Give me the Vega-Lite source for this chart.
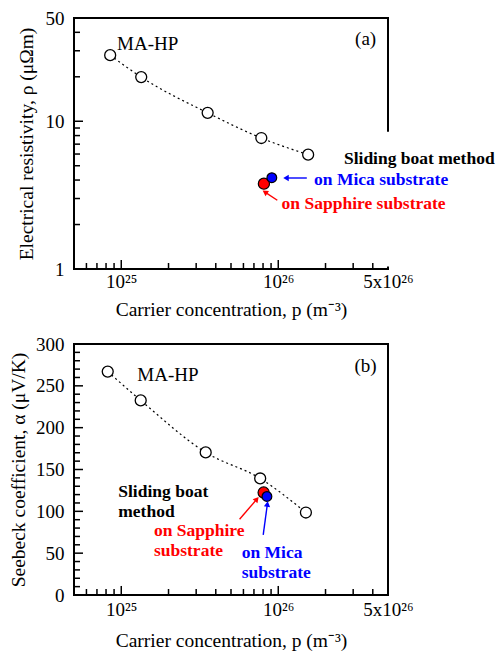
{
  "$schema": "https://vega.github.io/schema/vega-lite/v6.json",
  "background": "white",
  "padding": {"left": 7, "top": 8, "right": 0, "bottom": 0},
  "spacing": 14,
  "config": {
    "font": "Liberation Serif",
    "view": {"stroke": "black", "strokeWidth": 2},
    "axis": {"domain": false, "grid": false, "ticks": false, "labelFont": "Liberation Serif", "labelFontSize": 19, "labelColor": "black", "titleFont": "Liberation Serif", "titleFontSize": 19.5, "titleFontWeight": "normal", "titleColor": "black", "labelOverlap": false, "labelFlush": false, "labelBound": false}
  },
  "datasets": {
    "xticks": [
      {"v": 6e24, "major": false}, {"v": 7e24, "major": false}, {"v": 8e24, "major": false}, {"v": 9e24, "major": false},
      {"v": 1e25, "major": true},
      {"v": 2e25, "major": false}, {"v": 3e25, "major": false}, {"v": 4e25, "major": false}, {"v": 5e25, "major": false}, {"v": 6e25, "major": false}, {"v": 7e25, "major": false}, {"v": 8e25, "major": false}, {"v": 9e25, "major": false},
      {"v": 1e26, "major": true},
      {"v": 2e26, "major": false}, {"v": 3e26, "major": false}, {"v": 4e26, "major": false}
    ],
    "a_yticks": [
      {"v": 2, "major": false}, {"v": 3, "major": false}, {"v": 4, "major": false}, {"v": 5, "major": false}, {"v": 6, "major": false}, {"v": 7, "major": false}, {"v": 8, "major": false}, {"v": 9, "major": false},
      {"v": 10, "major": true},
      {"v": 20, "major": false}, {"v": 30, "major": false}, {"v": 40, "major": false}
    ],
    "b_yticks": [
      {"v": 10, "major": false}, {"v": 20, "major": false}, {"v": 30, "major": false}, {"v": 40, "major": false}, {"v": 50, "major": true},
      {"v": 60, "major": false}, {"v": 70, "major": false}, {"v": 80, "major": false}, {"v": 90, "major": false}, {"v": 100, "major": true},
      {"v": 110, "major": false}, {"v": 120, "major": false}, {"v": 130, "major": false}, {"v": 140, "major": false}, {"v": 150, "major": true},
      {"v": 160, "major": false}, {"v": 170, "major": false}, {"v": 180, "major": false}, {"v": 190, "major": false}, {"v": 200, "major": true},
      {"v": 210, "major": false}, {"v": 220, "major": false}, {"v": 230, "major": false}, {"v": 240, "major": false}, {"v": 250, "major": true},
      {"v": 260, "major": false}, {"v": 270, "major": false}, {"v": 280, "major": false}, {"v": 290, "major": false}
    ],
    "a_mahp": [{"x": 8.5e24, "y": 28.0}, {"x": 1.34e25, "y": 19.9}, {"x": 3.55e25, "y": 11.4}, {"x": 7.8e25, "y": 7.7}, {"x": 1.55e26, "y": 5.94}],
    "a_sb": [{"x": 8.1e25, "y": 3.78, "sub": "Sapphire"}, {"x": 9.1e25, "y": 4.15, "sub": "Mica"}],
    "a_arrows": [{"x": 1.52e26, "y": 4.13, "x2": 1.135e26, "y2": 4.13, "sub": "Mica"}, {"x": 9.86e25, "y": 2.92, "x2": 8.32e25, "y2": 3.29, "sub": "Sapphire"}],
    "a_cover": [{"x": 4.6e26, "x2": 7e26, "y": 1.04, "y2": 8.5}],
    "a_text": [
      {"x": 9.4e24, "y": 33.5, "label": "MA-HP", "kind": "plain"},
      {"x": 3.6e26, "y": 36, "label": "(a)", "kind": "panel"},
      {"x": 2.62e26, "y": 5.56, "label": "Sliding boat method", "kind": "black"},
      {"x": 1.69e26, "y": 3.98, "label": "on Mica substrate", "kind": "Mica"},
      {"x": 1.05e26, "y": 2.74, "label": "on Sapphire substrate", "kind": "Sapphire"}
    ],
    "b_mahp": [{"x": 8.2e24, "y": 267}, {"x": 1.33e25, "y": 232.6}, {"x": 3.45e25, "y": 170.4}, {"x": 7.67e25, "y": 139.3}, {"x": 1.5e26, "y": 98.6}],
    "b_sb": [{"x": 8.07e25, "y": 122.5, "sub": "Sapphire"}, {"x": 8.47e25, "y": 117.8, "sub": "Mica"}],
    "b_arrows": [{"x": 5.67e25, "y": 90.6, "x2": 7.24e25, "y2": 113.7, "sub": "Sapphire"}, {"x": 8.02e25, "y": 71.8, "x2": 8.51e25, "y2": 107.7, "sub": "Mica"}],
    "b_text": [
      {"x": 1.265e25, "y": 263.3, "label": "MA-HP", "kind": "plain"},
      {"x": 3.6e26, "y": 273.3, "label": "(b)", "kind": "panel"},
      {"x": 9.57e24, "y": 123.7, "label": "Sliding boat", "kind": "black"},
      {"x": 9.57e24, "y": 99.8, "label": "method", "kind": "black"},
      {"x": 1.615e25, "y": 77, "label": "on Sapphire", "kind": "Sapphire"},
      {"x": 1.615e25, "y": 53.1, "label": "substrate", "kind": "Sapphire"},
      {"x": 5.85e25, "y": 50.7, "label": "on Mica", "kind": "Mica"},
      {"x": 5.85e25, "y": 26.8, "label": "substrate", "kind": "Mica"}
    ]
  },
  "vconcat": [
    {
      "width": 314,
      "height": 251,
      "layer": [
        {
          "data": {"name": "a_mahp"},
          "mark": {"type": "line", "interpolate": "monotone", "strokeDash": [2, 3], "color": "black", "strokeWidth": 1.2},
          "encoding": {
            "x": {"field": "x", "type": "quantitative", "scale": {"type": "log", "domain": [5e24, 5e26], "nice": false},
              "axis": {"orient": "bottom", "title": "Carrier concentration, p (m⁻³)", "values": [1e25, 1e26, 5e26],
                "labelExpr": "datum.value == 1e25 ? '10²⁵' : datum.value == 1e26 ? '10²⁶' : '5x10²⁶'",
                "labelPadding": 3, "titlePadding": 9}},
            "y": {"field": "y", "type": "quantitative", "scale": {"type": "log", "domain": [1, 50], "nice": false},
              "axis": {"orient": "left", "title": "Electrical resistivity, ρ (μΩm)", "values": [1, 10, 50],
                "labelPadding": 10, "titlePadding": 9}}
          }
        },
        {
          "data": {"name": "xticks"},
          "transform": [{"filter": "datum.major"}],
          "mark": {"type": "rule", "color": "black", "strokeWidth": 1.5},
          "encoding": {"x": {"field": "v", "type": "quantitative", "axis": null}, "y": {"datum": 1, "type": "quantitative", "axis": null}, "y2": {"datum": 1.151}}
        },
        {
          "data": {"name": "xticks"},
          "transform": [{"filter": "!datum.major"}],
          "mark": {"type": "rule", "color": "black", "strokeWidth": 1.5},
          "encoding": {"x": {"field": "v", "type": "quantitative", "axis": null}, "y": {"datum": 1, "type": "quantitative", "axis": null}, "y2": {"datum": 1.098}}
        },
        {
          "data": {"name": "a_yticks"},
          "transform": [{"filter": "datum.major"}],
          "mark": {"type": "rule", "color": "black", "strokeWidth": 1.5},
          "encoding": {"y": {"field": "v", "type": "quantitative", "axis": null}, "x": {"datum": 5e24, "type": "quantitative", "axis": null}, "x2": {"datum": 5.705e24}}
        },
        {
          "data": {"name": "a_yticks"},
          "transform": [{"filter": "!datum.major"}],
          "mark": {"type": "rule", "color": "black", "strokeWidth": 1.5},
          "encoding": {"y": {"field": "v", "type": "quantitative", "axis": null}, "x": {"datum": 5e24, "type": "quantitative", "axis": null}, "x2": {"datum": 5.46e24}}
        },
        {
          "data": {"name": "a_mahp"},
          "mark": {"type": "point", "shape": "circle", "filled": true, "fill": "white", "stroke": "black", "strokeWidth": 1.3, "size": 120, "opacity": 1},
          "encoding": {"x": {"field": "x", "type": "quantitative", "axis": null}, "y": {"field": "y", "type": "quantitative", "axis": null}}
        },
        {
          "data": {"name": "a_sb"},
          "mark": {"type": "point", "shape": "circle", "filled": true, "stroke": "black", "strokeWidth": 1.2, "opacity": 1},
          "encoding": {
            "x": {"field": "x", "type": "quantitative", "axis": null}, "y": {"field": "y", "type": "quantitative", "axis": null},
            "fill": {"field": "sub", "type": "nominal", "scale": {"domain": ["Mica", "Sapphire"], "range": ["#0000ff", "#ff0000"]}, "legend": null},
            "size": {"field": "sub", "type": "nominal", "scale": {"domain": ["Mica", "Sapphire"], "range": [95, 125]}, "legend": null},
            "order": {"field": "sub", "sort": "descending"}
          }
        },
        {
          "data": {"name": "a_cover"},
          "mark": {"type": "rect", "fill": "white", "stroke": null, "clip": false},
          "encoding": {"x": {"field": "x", "type": "quantitative", "axis": null}, "x2": {"field": "x2"}, "y": {"field": "y", "type": "quantitative", "axis": null}, "y2": {"field": "y2"}}
        },
        {
          "data": {"name": "a_arrows"},
          "mark": {"type": "rule", "strokeWidth": 1.4},
          "encoding": {
            "x": {"field": "x", "type": "quantitative", "axis": null}, "y": {"field": "y", "type": "quantitative", "axis": null}, "x2": {"field": "x2"}, "y2": {"field": "y2"},
            "color": {"field": "sub", "type": "nominal", "scale": {"domain": ["Mica", "Sapphire"], "range": ["#0000ff", "#ff0000"]}, "legend": null}
          }
        },
        {
          "data": {"name": "a_arrows"},
          "transform": [{"filter": "datum.sub == 'Mica'"}],
          "mark": {"type": "point", "shape": "triangle", "filled": true, "color": "#0000ff", "size": 40, "angle": 270, "opacity": 1},
          "encoding": {"x": {"field": "x2", "type": "quantitative", "axis": null}, "y": {"field": "y2", "type": "quantitative", "axis": null}}
        },
        {
          "data": {"name": "a_arrows"},
          "transform": [{"filter": "datum.sub == 'Sapphire'"}],
          "mark": {"type": "point", "shape": "triangle", "filled": true, "color": "#ff0000", "size": 40, "angle": 303, "opacity": 1},
          "encoding": {"x": {"field": "x2", "type": "quantitative", "axis": null}, "y": {"field": "y2", "type": "quantitative", "axis": null}}
        },
        {
          "data": {"name": "a_text"},
          "transform": [{"filter": "datum.kind == 'plain'"}],
          "mark": {"type": "text", "align": "left", "baseline": "middle", "fontSize": 19, "color": "black"},
          "encoding": {"x": {"field": "x", "type": "quantitative", "axis": null}, "y": {"field": "y", "type": "quantitative", "axis": null}, "text": {"field": "label"}}
        },
        {
          "data": {"name": "a_text"},
          "transform": [{"filter": "datum.kind == 'panel'"}],
          "mark": {"type": "text", "align": "center", "baseline": "middle", "fontSize": 19, "color": "black"},
          "encoding": {"x": {"field": "x", "type": "quantitative", "axis": null}, "y": {"field": "y", "type": "quantitative", "axis": null}, "text": {"field": "label"}}
        },
        {
          "data": {"name": "a_text"},
          "transform": [{"filter": "datum.kind != 'plain' && datum.kind != 'panel'"}],
          "mark": {"type": "text", "align": "left", "baseline": "middle", "fontSize": 17.5, "fontWeight": "bold"},
          "encoding": {
            "x": {"field": "x", "type": "quantitative", "axis": null}, "y": {"field": "y", "type": "quantitative", "axis": null}, "text": {"field": "label"},
            "color": {"field": "kind", "type": "nominal", "scale": {"domain": ["black", "Mica", "Sapphire"], "range": ["#000000", "#0000ff", "#ff0000"]}, "legend": null}
          }
        }
      ],
      "resolve": {"scale": {"color": "independent"}, "axis": {"x": "independent", "y": "independent"}}
    },
    {
      "width": 314,
      "height": 251,
      "layer": [
        {
          "data": {"name": "b_mahp"},
          "mark": {"type": "line", "interpolate": "monotone", "strokeDash": [2, 3], "color": "black", "strokeWidth": 1.2},
          "encoding": {
            "x": {"field": "x", "type": "quantitative", "scale": {"type": "log", "domain": [5e24, 5e26], "nice": false},
              "axis": {"orient": "bottom", "title": "Carrier concentration, p (m⁻³)", "values": [1e25, 1e26, 5e26],
                "labelExpr": "datum.value == 1e25 ? '10²⁵' : datum.value == 1e26 ? '10²⁶' : '5x10²⁶'",
                "labelPadding": 5, "titlePadding": 12}},
            "y": {"field": "y", "type": "quantitative", "scale": {"domain": [0, 300], "nice": false},
              "axis": {"orient": "left", "title": "Seebeck coefficient, α (μV/K)", "values": [0, 50, 100, 150, 200, 250, 300],
                "labelPadding": 10, "titlePadding": 7}}
          }
        },
        {
          "data": {"name": "xticks"},
          "transform": [{"filter": "datum.major"}],
          "mark": {"type": "rule", "color": "black", "strokeWidth": 1.5},
          "encoding": {"x": {"field": "v", "type": "quantitative", "axis": null}, "y": {"datum": 0, "type": "quantitative", "axis": null}, "y2": {"datum": 10.8}}
        },
        {
          "data": {"name": "xticks"},
          "transform": [{"filter": "!datum.major"}],
          "mark": {"type": "rule", "color": "black", "strokeWidth": 1.5},
          "encoding": {"x": {"field": "v", "type": "quantitative", "axis": null}, "y": {"datum": 0, "type": "quantitative", "axis": null}, "y2": {"datum": 7.2}}
        },
        {
          "data": {"name": "b_yticks"},
          "transform": [{"filter": "datum.major"}],
          "mark": {"type": "rule", "color": "black", "strokeWidth": 1.5},
          "encoding": {"y": {"field": "v", "type": "quantitative", "axis": null}, "x": {"datum": 5e24, "type": "quantitative", "axis": null}, "x2": {"datum": 5.705e24}}
        },
        {
          "data": {"name": "b_yticks"},
          "transform": [{"filter": "!datum.major"}],
          "mark": {"type": "rule", "color": "black", "strokeWidth": 1.5},
          "encoding": {"y": {"field": "v", "type": "quantitative", "axis": null}, "x": {"datum": 5e24, "type": "quantitative", "axis": null}, "x2": {"datum": 5.46e24}}
        },
        {
          "data": {"name": "b_mahp"},
          "mark": {"type": "point", "shape": "circle", "filled": true, "fill": "white", "stroke": "black", "strokeWidth": 1.3, "size": 120, "opacity": 1},
          "encoding": {"x": {"field": "x", "type": "quantitative", "axis": null}, "y": {"field": "y", "type": "quantitative", "axis": null}}
        },
        {
          "data": {"name": "b_sb"},
          "mark": {"type": "point", "shape": "circle", "filled": true, "stroke": "black", "strokeWidth": 1.2, "opacity": 1},
          "encoding": {
            "x": {"field": "x", "type": "quantitative", "axis": null}, "y": {"field": "y", "type": "quantitative", "axis": null},
            "fill": {"field": "sub", "type": "nominal", "scale": {"domain": ["Mica", "Sapphire"], "range": ["#0000ff", "#ff0000"]}, "legend": null},
            "size": {"field": "sub", "type": "nominal", "scale": {"domain": ["Mica", "Sapphire"], "range": [95, 125]}, "legend": null},
            "order": {"field": "sub", "sort": "descending"}
          }
        },
        {
          "data": {"name": "b_arrows"},
          "mark": {"type": "rule", "strokeWidth": 1.4},
          "encoding": {
            "x": {"field": "x", "type": "quantitative", "axis": null}, "y": {"field": "y", "type": "quantitative", "axis": null}, "x2": {"field": "x2"}, "y2": {"field": "y2"},
            "color": {"field": "sub", "type": "nominal", "scale": {"domain": ["Mica", "Sapphire"], "range": ["#0000ff", "#ff0000"]}, "legend": null}
          }
        },
        {
          "data": {"name": "b_arrows"},
          "transform": [{"filter": "datum.sub == 'Mica'"}],
          "mark": {"type": "point", "shape": "triangle", "filled": true, "color": "#0000ff", "size": 40, "angle": 8, "opacity": 1},
          "encoding": {"x": {"field": "x2", "type": "quantitative", "axis": null}, "y": {"field": "y2", "type": "quantitative", "axis": null}}
        },
        {
          "data": {"name": "b_arrows"},
          "transform": [{"filter": "datum.sub == 'Sapphire'"}],
          "mark": {"type": "point", "shape": "triangle", "filled": true, "color": "#ff0000", "size": 40, "angle": 41, "opacity": 1},
          "encoding": {"x": {"field": "x2", "type": "quantitative", "axis": null}, "y": {"field": "y2", "type": "quantitative", "axis": null}}
        },
        {
          "data": {"name": "b_text"},
          "transform": [{"filter": "datum.kind == 'plain'"}],
          "mark": {"type": "text", "align": "left", "baseline": "middle", "fontSize": 19, "color": "black"},
          "encoding": {"x": {"field": "x", "type": "quantitative", "axis": null}, "y": {"field": "y", "type": "quantitative", "axis": null}, "text": {"field": "label"}}
        },
        {
          "data": {"name": "b_text"},
          "transform": [{"filter": "datum.kind == 'panel'"}],
          "mark": {"type": "text", "align": "center", "baseline": "middle", "fontSize": 19, "color": "black"},
          "encoding": {"x": {"field": "x", "type": "quantitative", "axis": null}, "y": {"field": "y", "type": "quantitative", "axis": null}, "text": {"field": "label"}}
        },
        {
          "data": {"name": "b_text"},
          "transform": [{"filter": "datum.kind != 'plain' && datum.kind != 'panel'"}],
          "mark": {"type": "text", "align": "left", "baseline": "middle", "fontSize": 17.5, "fontWeight": "bold"},
          "encoding": {
            "x": {"field": "x", "type": "quantitative", "axis": null}, "y": {"field": "y", "type": "quantitative", "axis": null}, "text": {"field": "label"},
            "color": {"field": "kind", "type": "nominal", "scale": {"domain": ["black", "Mica", "Sapphire"], "range": ["#000000", "#0000ff", "#ff0000"]}, "legend": null}
          }
        }
      ],
      "resolve": {"scale": {"color": "independent"}, "axis": {"x": "independent", "y": "independent"}}
    }
  ]
}
